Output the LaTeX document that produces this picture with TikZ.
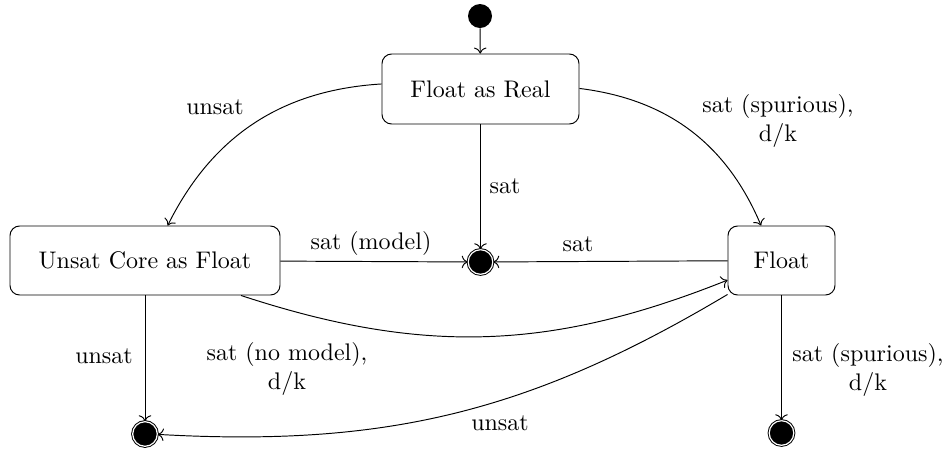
\documentclass[tikz,border=0pt]{standalone}
\usetikzlibrary{arrows.meta}
\def\px{0.41672pt}
\begin{document}
\begin{tikzpicture}[x=0.41672pt,y=-0.41672pt,
  statebox/.style={draw, rounded corners=4pt, line width=0.4pt, minimum height=69*\px, inner sep=0pt},
  startdot/.style={circle, fill=black, minimum size=24*\px, inner sep=0pt},
  enddot/.style={circle, fill=black, draw=black, double=white, double distance=0.5pt, line width=0.4pt, minimum size=24.6*\px, inner sep=0pt},
  trans/.style={->, line width=0.4pt},
  lbl/.style={align=center, inner sep=1pt}]
\useasboundingbox (0,0) rectangle (951,449);

% states
\node[startdot] (init) at (480,16) {};
\node[statebox, minimum width=197*\px, minimum height=70*\px] (far) at (480.5,89) {Float as Real};
\node[statebox, minimum width=270*\px] (uc) at (145,260.5) {Unsat Core as Float};
\node[statebox, minimum width=107*\px] (fl) at (781.5,260.5) {Float};
\node[enddot] (endm) at (480.5,262) {};
\node[enddot] (endl) at (145,434) {};
\node[enddot] (endr) at (781.5,433) {};

% transitions
\draw[trans] (init) -- (far);
\draw[trans] (far) to[bend right=30] (uc);
\draw[trans] (far) to[bend left=30] (fl);
\draw[trans] (far) -- (endm);
\draw[trans] (uc) -- (endm);
\draw[trans] (fl) -- (endm);
\draw[trans] (uc) to[bend right=20] (fl);
\draw[trans] (uc) -- (endl);
\draw[trans] (fl) to[bend left=17] (endl);
\draw[trans] (fl) -- (endr);

% labels
\node[lbl] (l1) at (215,107) {unsat};
\node[lbl] (l2) at (778,121) {sat (spurious),\\d/k};
\node[lbl] (l3) at (505,186) {sat};
\node[lbl] (l4) at (371,243) {sat (model)};
\node[lbl] (l5) at (578,244) {sat};
\node[lbl] (l6) at (104,356) {unsat};
\node[lbl] (l7) at (287,369) {sat (no model),\\d/k};
\node[lbl] (l8) at (500,423) {unsat};
\node[lbl] (l9) at (868,370) {sat (spurious),\\d/k};
\end{tikzpicture}
\end{document}
